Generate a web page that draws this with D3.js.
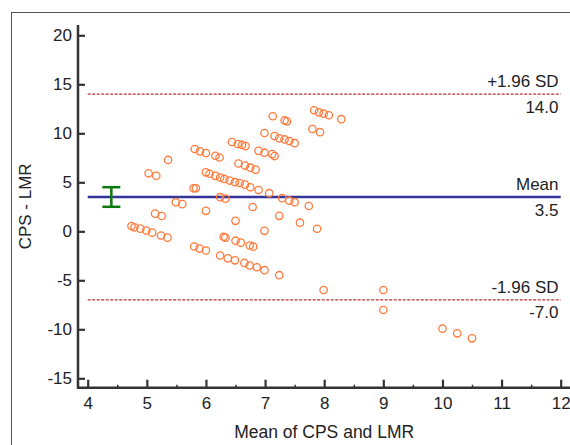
<!DOCTYPE html>
<html>
<head>
<meta charset="utf-8">
<script src="https://cdn.jsdelivr.net/npm/d3@7"></script>
<style>
  body { margin: 0; background: #fff; }
  svg { display: block; font-family: "Liberation Sans", Arial, sans-serif; }
  .axis text { font-size: 17px; fill: #222; }
</style>
</head>
<body>
<script>
// Mean of the two methods (x) and their difference (y)
var meanVals = [4.74, 4.79, 4.89, 4.99, 5.09, 5.24, 5.35, 5.03, 5.16, 5.36,
  5.14, 5.25, 5.49, 5.60, 5.79, 5.83, 5.81, 5.90, 6.00, 6.00,
  6.06, 6.16, 6.24, 6.31, 6.40, 6.49, 6.57, 6.66, 6.75, 6.16,
  6.23, 6.44, 6.54, 6.61, 6.67, 6.55, 6.66, 6.75, 6.84, 6.89,
  6.99, 7.12, 7.16, 6.99, 7.13, 7.33, 7.37, 7.16, 7.24, 7.33,
  7.41, 7.50, 6.89, 7.07, 6.24, 6.33, 7.29, 7.41, 7.50, 6.00,
  6.79, 6.50, 7.24, 6.99, 6.30, 6.33, 6.50, 6.59, 5.80, 5.89,
  6.00, 6.74, 6.80, 6.24, 6.37, 6.49, 6.65, 6.74, 6.86, 6.99,
  7.24, 7.74, 7.59, 7.88, 7.83, 7.91, 7.99, 8.08, 8.29, 7.80,
  7.93, 7.99, 9.00, 9.00, 10.00, 10.25, 10.50];
var diffVals = [0.54, 0.41, 0.27, 0.08, -0.14, -0.43, -0.65, 5.92, 5.67, 7.28,
  1.80, 1.56, 2.97, 2.77, 4.39, 4.39, 8.40, 8.16, 7.99, 6.02,
  5.87, 5.66, 5.49, 5.34, 5.18, 5.01, 4.93, 4.76, 4.49, 7.71,
  7.53, 9.11, 8.91, 8.81, 8.70, 6.92, 6.71, 6.49, 6.29, 8.21,
  8.02, 7.87, 7.68, 10.03, 11.74, 11.31, 11.22, 9.72, 9.49, 9.37,
  9.21, 8.99, 4.21, 3.89, 3.48, 3.33, 3.38, 3.12, 2.97, 2.09,
  2.48, 1.07, 1.58, 0.05, -0.56, -0.65, -0.96, -1.16, -1.55, -1.76,
  -1.96, -1.45, -1.57, -2.47, -2.76, -2.96, -3.23, -3.49, -3.67, -3.97,
  -4.48, 2.58, 0.88, 0.26, 12.35, 12.14, 12.00, 11.84, 11.44, 10.44,
  10.11, -5.99, -5.99, -8.03, -9.94, -10.41, -10.92];

// Reference lines: mean difference and limits of agreement
var meanDiff = 3.5;
var upperLimit = 14.0;
var lowerLimit = -7.0;
var meanCI = [2.5, 4.5];
var ciX = 4.4;

var xTicks = [4, 5, 6, 7, 8, 9, 10, 11, 12];
var xMinorTicks = [4.5, 5.5, 6.5, 7.5, 8.5, 9.5, 10.5, 11.5];
var yTicks = [-15, -10, -5, 0, 5, 10, 15, 20];

var svgWidth = 570;
var svgHeight = 445;

// plain hyphen for negatives, like the original
var fmt0 = d => String(d);
var fmt1 = d => d.toFixed(1);

var svg = d3.select("body")
  .append("svg")
  .attr("width", svgWidth)
  .attr("height", svgHeight);

// outer frame (runs off the right and bottom of the picture)
svg.append("rect")
  .attr("x", 11.5)
  .attr("y", 12.5)
  .attr("width", 600)
  .attr("height", 480)
  .attr("fill", "none")
  .attr("stroke", "#555")
  .attr("stroke-width", 1);

var xScale = d3.scaleLinear().domain([4, 12]).range([87.7, 560.7]);
var yScale = d3.scaleLinear().domain([20, -15]).range([35.3, 378.3]);

var axisX = 78;
var axisY = 387.7;

// y axis: ticks point inwards
var leftAxis = d3.axisLeft(yScale)
  .tickValues(yTicks)
  .tickFormat(fmt0)
  .tickSizeInner(-7)
  .tickSizeOuter(0)
  .tickPadding(6);

svg.append("g")
  .attr("class", "axis")
  .attr("transform", `translate(${axisX},0)`)
  .call(leftAxis)
  .call(g => g.select(".domain").remove())
  .call(g => g.selectAll(".tick line").attr("stroke", "#333").attr("stroke-width", 2.2));

// x axis: major and minor ticks point up
var bottomAxis = d3.axisBottom(xScale)
  .tickValues(xTicks)
  .tickFormat(fmt0)
  .tickSizeInner(-8)
  .tickSizeOuter(0)
  .tickPadding(9);

svg.append("g")
  .attr("class", "axis")
  .attr("transform", `translate(0,${axisY})`)
  .call(bottomAxis)
  .call(g => g.select(".domain").remove())
  .call(g => g.selectAll(".tick line").attr("stroke", "#333").attr("stroke-width", 2.2));

svg.append("g")
  .attr("transform", `translate(0,${axisY})`)
  .call(d3.axisBottom(xScale).tickValues(xMinorTicks).tickSizeInner(-3).tickSizeOuter(0).tickFormat(""))
  .call(g => g.select(".domain").remove())
  .call(g => g.selectAll(".tick line").attr("stroke", "#333").attr("stroke-width", 1.5));

// axis lines
svg.append("line")
  .attr("x1", axisX).attr("x2", axisX)
  .attr("y1", 25).attr("y2", axisY + 1)
  .attr("stroke", "#333").attr("stroke-width", 2.5);
svg.append("line")
  .attr("x1", axisX - 1).attr("x2", 571)
  .attr("y1", axisY).attr("y2", axisY)
  .attr("stroke", "#333").attr("stroke-width", 2.5);

// axis titles
svg.append("text")
  .attr("x", (xScale(4) + xScale(12)) / 2)
  .attr("y", 438)
  .attr("text-anchor", "middle")
  .style("font-size", "17.5px")
  .attr("fill", "#222")
  .text("Mean of CPS and LMR");

svg.append("text")
  .attr("transform", `translate(30.5,${(25 + axisY) / 2}) rotate(-90)`)
  .attr("text-anchor", "middle")
  .style("font-size", "17px")
  .attr("fill", "#222")
  .text("CPS - LMR");

// limits of agreement
[upperLimit, lowerLimit].forEach(function(v) {
  svg.append("line")
    .attr("x1", xScale(4)).attr("x2", xScale(12))
    .attr("y1", yScale(v)).attr("y2", yScale(v))
    .attr("stroke", "#a00000")
    .attr("stroke-width", 1)
    .attr("stroke-dasharray", "3,1.5");
});

// mean line
svg.append("line")
  .attr("x1", xScale(4)).attr("x2", xScale(12))
  .attr("y1", yScale(meanDiff)).attr("y2", yScale(meanDiff))
  .attr("stroke", "#33339a")
  .attr("stroke-width", 2.6);

// line labels
var lineLabels = [
  { v: upperLimit, top: "+1.96 SD", bottom: fmt1(upperLimit) },
  { v: meanDiff, top: "Mean", bottom: fmt1(meanDiff) },
  { v: lowerLimit, top: "-1.96 SD", bottom: fmt1(lowerLimit) }
];
lineLabels.forEach(function(d) {
  svg.append("text")
    .attr("x", 558.5)
    .attr("y", yScale(d.v) - 7.3)
    .attr("text-anchor", "end")
    .style("font-size", "17px")
    .attr("fill", "#222")
    .text(d.top);
  svg.append("text")
    .attr("x", 558.5)
    .attr("y", yScale(d.v) + 18.5)
    .attr("text-anchor", "end")
    .style("font-size", "17px")
    .attr("fill", "#222")
    .text(d.bottom);
});

// 95% CI of the mean
var ci = svg.append("g")
  .attr("stroke", "#0a7a0a")
  .attr("stroke-width", 2.5);
ci.append("line")
  .attr("x1", xScale(ciX)).attr("x2", xScale(ciX))
  .attr("y1", yScale(meanCI[0])).attr("y2", yScale(meanCI[1]));
meanCI.forEach(function(v) {
  ci.append("line")
    .attr("x1", xScale(ciX) - 9).attr("x2", xScale(ciX) + 9)
    .attr("y1", yScale(v)).attr("y2", yScale(v));
});

// points
svg.append("g")
  .selectAll("circle")
  .data(meanVals)
  .enter()
  .append("circle")
  .attr("cx", d => xScale(d))
  .attr("cy", (d, i) => yScale(diffVals[i]))
  .attr("r", 3.7)
  .attr("fill", "none")
  .attr("stroke", "#ff7a3c")
  .attr("stroke-width", 1.3);
</script>
</body>
</html>
